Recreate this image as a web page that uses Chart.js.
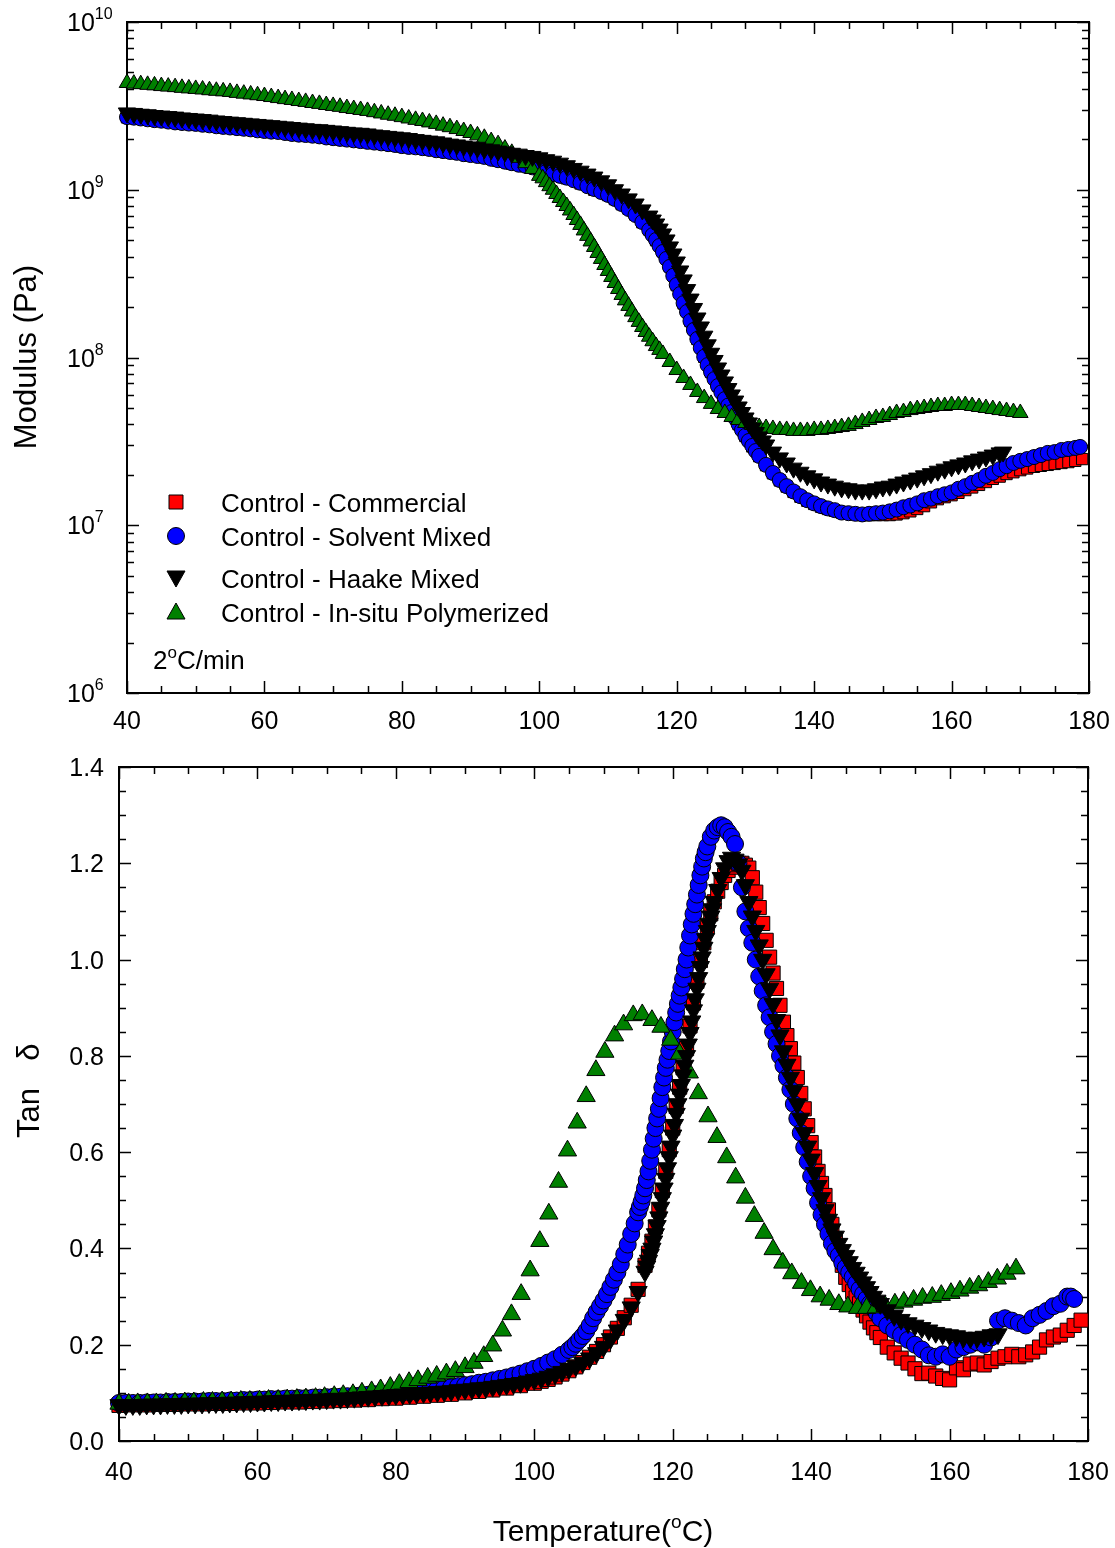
<!DOCTYPE html>
<html>
<head>
<meta charset="utf-8">
<script src="https://cdn.jsdelivr.net/npm/chart.js@4.4.1/dist/chart.umd.min.js"></script>
<style>
html,body{margin:0;padding:0;background:#fff;}
canvas{display:block;}
</style>
</head>
<body>
<canvas id="modChart" width="1115" height="745"></canvas>
<canvas id="tanChart" width="1115" height="803"></canvas>
<script>
// ---------------- DATA ----------------
const seriesNames = ['Control - Commercial', 'Control - Solvent Mixed', 'Control - Haake Mixed', 'Control - In-situ Polymerized'];
const tempTicks = [40, 60, 80, 100, 120, 140, 160, 180];
const modulusTicks = [1e6, 1e7, 1e8, 1e9, 1e10];
const modulusTickExponents = ['6', '7', '8', '9', '10'];
const tanTicks = [0.0, 0.2, 0.4, 0.6, 0.8, 1.0, 1.2, 1.4];
const rateNote = ['2', 'o', 'C/min'];
const xTitle = ['Temperature(', 'o', 'C)'];
const yTitleTop = 'Modulus (Pa)';
const yTitleBottom = ['Tan', 'δ'];

// Modulus (Pa) vs temperature (°C)
const modTempCommercial = [40,42,44,46,48,50,52,54,56,58,60,62,64,66,68,70,72,74,76,78,80,82,84,86,88,90,92,94,96,98,100,102,104,106,108,110,
111,112,113,114,115,116,117,118,119,120,121,122,123,124,125,126,127,128,129,130,131,132,133,134,135,136,137,138,139,140,
141,142,143,144,145,146,147,148,149,150,151,152,153,154,155,156,157,158,159,160,161,162,163,164,165,166,167,168,169,170,
171,172,173,174,175,176,177,178,179];
const modCommercial = [2.70e9,2.65e9,2.59e9,2.54e9,2.49e9,2.46e9,2.41e9,2.36e9,2.32e9,2.28e9,
2.23e9,2.20e9,2.14e9,2.11e9,2.07e9,2.02e9,1.98e9,1.94e9,1.90e9,1.86e9,
1.81e9,1.78e9,1.74e9,1.69e9,1.65e9,1.60e9,1.56e9,1.49e9,1.43e9,1.38e9,
1.32e9,1.23e9,1.17e9,1.09e9,1.00e9,9.30e8,
8.8e8,8.2e8,7.7e8,7.1e8,6.4e8,5.8e8,5.0e8,4.3e8,3.5e8,2.7e8,
2.1e8,1.65e8,1.29e8,1.01e8,8.2e7,6.8e7,5.6e7,4.7e7,4.0e7,3.4e7,
2.95e7,2.58e7,2.28e7,2.04e7,1.85e7,1.70e7,1.58e7,1.48e7,1.40e7,1.34e7,
1.29e7,1.25e7,1.22e7,1.19e7,1.17e7,1.16e7,1.15e7,1.15e7,1.15e7,1.15e7,
1.15e7,1.16e7,1.18e7,1.21e7,1.25e7,1.30e7,1.37e7,1.43e7,1.47e7,1.51e7,
1.56e7,1.62e7,1.68e7,1.74e7,1.81e7,1.89e7,1.95e7,2.02e7,2.07e7,2.13e7,
2.18e7,2.23e7,2.26e7,2.29e7,2.32e7,2.35e7,2.38e7,2.42e7,2.48e7];

const modTempSolvent = [40,41,42,43,44,45,46,47,48,49,50,51,52,53,54,55,56,57,58,59,60,61,62,63,64,65,66,67,68,69,
70,71,72,73,74,75,76,77,78,79,80,81,82,83,84,85,86,87,88,89,90,91,92,93,94,95,96,97,98,99,100,101,102,103,104,105,106,107,108,109,
110,111,112,113,114,115,
116,116.5,117,117.5,118,118.5,119,119.5,120,120.5,121,121.5,122,122.5,123,123.5,124,124.5,125,125.5,
126,126.5,127,127.5,128,128.5,129,129.5,130,130.5,131,131.5,
132,133,134,135,136,137,138,139,140,141,142,143,144,145,146,147,148,149,150,151,152,153,154,155,156,157,158,159,160,161,
162,163,164,165,166,167,168,169,170,171,172,173,174,175,176,177,178,178.7];
const modSolvent = [2.71e9,2.69e9,2.66e9,2.63e9,2.60e9,2.58e9,2.55e9,2.52e9,2.50e9,2.48e9,
2.47e9,2.44e9,2.42e9,2.39e9,2.37e9,2.35e9,2.33e9,2.31e9,2.29e9,2.26e9,
2.24e9,2.22e9,2.21e9,2.18e9,2.15e9,2.13e9,2.12e9,2.10e9,2.08e9,2.05e9,
2.03e9,2.01e9,1.99e9,1.97e9,1.95e9,1.93e9,1.91e9,1.89e9,1.87e9,1.85e9,
1.82e9,1.80e9,1.79e9,1.77e9,1.75e9,1.72e9,1.70e9,1.68e9,1.66e9,1.63e9,
1.61e9,1.59e9,1.57e9,1.53e9,1.50e9,1.47e9,1.44e9,1.41e9,1.39e9,1.36e9,
1.33e9,1.28e9,1.24e9,1.21e9,1.18e9,1.14e9,1.10e9,1.05e9,1.01e9,9.70e8,
9.32e8,8.81e8,8.22e8,7.68e8,7.07e8,6.42e8,
5.75e8,5.37e8,5.02e8,4.62e8,4.26e8,3.87e8,3.47e8,3.07e8,2.71e8,2.39e8,
2.11e8,1.87e8,1.65e8,1.46e8,1.29e8,1.14e8,1.01e8,9.02e7,8.19e7,7.44e7,
6.76e7,6.19e7,5.65e7,5.17e7,4.73e7,4.36e7,4.01e7,3.70e7,3.41e7,3.18e7,2.97e7,2.77e7,
2.59e7,2.29e7,2.05e7,1.86e7,1.71e7,1.59e7,1.49e7,1.41e7,1.35e7,1.30e7,
1.26e7,1.23e7,1.19e7,1.18e7,1.17e7,1.16e7,1.17e7,1.18e7,1.19e7,1.21e7,
1.24e7,1.28e7,1.31e7,1.35e7,1.41e7,1.44e7,1.49e7,1.53e7,1.57e7,1.65e7,
1.71e7,1.79e7,1.86e7,1.97e7,2.05e7,2.16e7,2.25e7,2.35e7,2.42e7,2.48e7,
2.55e7,2.62e7,2.70e7,2.73e7,2.81e7,2.85e7,2.89e7,2.93e7];

const modTempHaake = [40,41,42,43,44,45,46,47,48,49,50,51,52,53,54,55,56,57,58,59,60,61,62,63,64,65,66,67,68,69,
70,71,72,73,74,75,76,77,78,79,80,81,82,83,84,85,86,87,88,89,90,91,92,93,94,95,96,97,98,99,100,101,102,103,104,105,106,107,108,109,
110,111,112,113,114,115,
116,116.5,117,117.5,118,118.5,119,119.5,120,120.5,121,121.5,122,122.5,123,123.5,124,124.5,125,125.5,
126,126.5,127,127.5,128,128.5,129,129.5,130,130.5,131,131.5,132,132.5,
133,134,135,136,137,138,139,140,141,142,143,144,145,146,147,148,149,150,151,152,153,154,155,156,157,158,159,160,161,162,
163,164,165,166,167,167.5];
const modHaake = [2.87e9,2.85e9,2.82e9,2.80e9,2.77e9,2.75e9,2.73e9,2.71e9,2.68e9,2.66e9,
2.64e9,2.62e9,2.60e9,2.57e9,2.55e9,2.53e9,2.51e9,2.49e9,2.47e9,2.45e9,
2.43e9,2.41e9,2.39e9,2.37e9,2.35e9,2.33e9,2.31e9,2.29e9,2.28e9,2.26e9,
2.24e9,2.22e9,2.20e9,2.18e9,2.17e9,2.15e9,2.12e9,2.10e9,2.08e9,2.06e9,
2.04e9,2.02e9,1.99e9,1.97e9,1.95e9,1.93e9,1.90e9,1.87e9,1.85e9,1.82e9,
1.80e9,1.78e9,1.75e9,1.73e9,1.70e9,1.68e9,1.65e9,1.63e9,1.60e9,1.58e9,
1.55e9,1.51e9,1.48e9,1.44e9,1.39e9,1.34e9,1.29e9,1.24e9,1.19e9,1.13e9,
1.07e9,1.00e9,9.43e8,8.82e8,8.22e8,7.58e8,
6.97e8,6.60e8,6.25e8,5.83e8,5.45e8,5.02e8,4.56e8,4.14e8,3.71e8,3.28e8,
2.90e8,2.54e8,2.23e8,1.96e8,1.72e8,1.52e8,1.34e8,1.19e8,1.06e8,9.60e7,
8.66e7,7.86e7,7.15e7,6.53e7,5.98e7,5.50e7,5.07e7,4.70e7,4.36e7,4.07e7,
3.80e7,3.57e7,3.36e7,3.18e7,
3.01e7,2.73e7,2.52e7,2.35e7,2.19e7,2.07e7,1.97e7,1.89e7,1.81e7,1.76e7,
1.71e7,1.67e7,1.65e7,1.62e7,1.62e7,1.62e7,1.65e7,1.69e7,1.71e7,1.76e7,
1.81e7,1.86e7,1.91e7,1.97e7,2.03e7,2.10e7,2.16e7,2.23e7,2.29e7,2.35e7,
2.42e7,2.48e7,2.55e7,2.62e7,2.70e7,2.73e7];

const modTempInsitu = [40,41,42,43,44,45,46,47,48,49,50,51,52,53,54,55,56,57,58,59,60,61,62,63,64,65,66,67,68,69,
70,71,72,73,74,75,76,77,78,79,80,81,82,83,84,85,86,87,88,89,90,91,92,93,94,95,96,97,98,99,
100,100.5,101,101.5,102,102.5,103,103.5,104,104.5,105,105.5,106,106.5,107,107.5,108,108.5,109,109.5,
110,110.5,111,111.5,112,112.5,113,113.5,114,114.5,115,115.5,116,116.5,117,117.5,
118,119,120,121,122,123,124,125,126,127,128,129,130,131,132,133,134,135,136,137,138,139,140,141,142,143,144,145,146,147,
148,149,150,151,152,153,154,155,156,157,158,159,160,161,162,163,164,165,166,167,168,169,170];
const modInsitu = [4.33e9,4.29e9,4.26e9,4.22e9,4.19e9,4.15e9,4.12e9,4.09e9,4.05e9,4.02e9,
3.99e9,3.96e9,3.92e9,3.89e9,3.86e9,3.83e9,3.78e9,3.74e9,3.70e9,3.66e9,
3.62e9,3.57e9,3.52e9,3.47e9,3.43e9,3.38e9,3.34e9,3.29e9,3.25e9,3.20e9,
3.16e9,3.12e9,3.07e9,3.03e9,2.99e9,2.95e9,2.90e9,2.85e9,2.80e9,2.76e9,
2.71e9,2.66e9,2.61e9,2.57e9,2.52e9,2.47e9,2.41e9,2.36e9,2.30e9,2.24e9,
2.18e9,2.11e9,2.04e9,1.95e9,1.87e9,1.76e9,1.66e9,1.55e9,1.44e9,1.33e9,
1.21e9,1.17e9,1.11e9,1.05e9,1.00e9,9.43e8,8.93e8,8.45e8,8.00e8,7.52e8,
7.07e8,6.60e8,6.17e8,5.72e8,5.31e8,4.92e8,4.56e8,4.20e8,3.87e8,3.56e8,
3.28e8,3.02e8,2.78e8,2.56e8,2.36e8,2.19e8,2.03e8,1.88e8,1.74e8,1.63e8,
1.52e8,1.42e8,1.33e8,1.25e8,1.17e8,1.11e8,
1.05e8,9.40e7,8.42e7,7.55e7,6.86e7,6.23e7,5.73e7,5.29e7,4.93e7,4.67e7,
4.42e7,4.24e7,4.07e7,3.96e7,3.85e7,3.80e7,3.75e7,3.70e7,3.70e7,3.65e7,
3.65e7,3.65e7,3.70e7,3.70e7,3.75e7,3.80e7,3.85e7,3.91e7,4.01e7,4.13e7,
4.24e7,4.36e7,4.42e7,4.54e7,4.67e7,4.73e7,4.86e7,4.93e7,5.00e7,5.07e7,
5.14e7,5.14e7,5.21e7,5.21e7,5.21e7,5.14e7,5.07e7,5.00e7,4.93e7,4.86e7,
4.80e7,4.73e7,4.67e7];

// Tan delta vs temperature (°C)
const tanTempCommercial = [40,42,44,46,48,50,52,54,56,58,60,62,64,66,68,70,72,74,76,78,80,82,84,86,88,90,92,94,96,98,100,
101,102,103,104,105,106,107,108,109,110,111,112,113,114,115,
116,116.5,117,117.5,118,118.5,119,119.5,120,120.5,121,121.5,122,122.5,123,123.5,124,124.5,125,125.5,
126,126.5,127,127.5,128,128.5,129,129.5,130,130.5,131,131.5,132,132.5,133,133.5,134,134.5,135,135.5,
136,136.5,137,137.5,138,138.5,139,139.5,140,140.5,141,141.5,142,142.5,143,143.5,144,144.5,145,145.5,
146,146.5,147,147.5,148,148.5,149,149.5,150,
151,152,153,154,155,156,157,158,159,160,161,162,163,164,165,166,167,168,169,170,171,172,173,174,175,176,177,178,179];
const tanCommercial = [.074,.075,.075,.076,.076,.077,.077,.078,.078,.079,
.079,.080,.081,.081,.082,.083,.084,.085,.086,.088,
.089,.091,.093,.095,.097,.100,.103,.106,.110,.115,.120,
.124,.128,.133,.139,.146,.154,.163,.174,.186,.200,
.216,.234,.256,.282,.315,
.365,.390,.415,.445,.480,.520,.560,.605,.650,.695,
.735,.775,.815,.862,.910,.955,.998,1.035,1.068,1.095,
1.120,1.142,1.160,1.175,1.185,1.192,1.197,1.200,1.200,1.196,
1.190,1.170,1.140,1.108,1.075,1.040,1.005,.972,.940,.905,
.870,.842,.815,.785,.755,.722,.690,.655,.620,.590,
.560,.535,.510,.480,.450,.420,.390,.365,.340,.325,
.310,.297,.285,.272,.260,.247,.235,.225,.215,
.195,.183,.172,.162,.150,.140,.141,.135,.130,.127,
.152,.148,.160,.162,.158,.165,.172,.175,.180,.175,
.179,.185,.195,.210,.216,.220,.230,.240,.251];

const tanTempSolvent = [40,41,42,43,44,45,46,47,48,49,50,51,52,53,54,55,56,57,58,59,60,61,62,63,64,65,66,67,68,69,
70,71,72,73,74,75,76,77,78,79,80,81,82,83,84,85,86,87,88,89,90,91,92,93,94,95,96,97,98,99,100,101,102,103,104,
105,105.5,106,106.5,107,107.5,108,108.5,109,109.5,110,110.5,111,111.5,112,112.5,113,113.5,114,114.5,
115,115.25,115.5,115.75,116,116.25,116.5,116.75,117,117.25,117.5,117.75,118,118.25,118.5,118.75,119,119.25,119.5,119.75,
120,120.25,120.5,120.75,121,121.25,121.5,121.75,122,122.25,122.5,122.75,123,123.25,123.5,123.75,124,124.25,124.5,124.75,125,
125.5,126,126.5,127,127.5,128,128.5,129,129.5,
130,130.5,131,131.5,132,132.5,133,133.5,134,134.5,
135,135.5,136,136.5,137,137.5,138,138.5,139,139.5,
140,140.5,141,141.5,142,142.5,143,143.5,144,144.5,
145,145.5,146,146.5,147,147.5,148,148.5,149,149.5,150,
151,152,153,154,155,156,157,158,159,160,161,162,163,164,165,166,167,168,169,170,171,172,173,174,175,176,177,177.5,178];
const tanSolvent = [.079,.079,.079,.079,.080,.080,.080,.081,.081,.081,
.082,.082,.082,.083,.083,.083,.084,.084,.085,.085,
.086,.086,.087,.087,.088,.088,.089,.089,.090,.090,
.091,.092,.092,.093,.094,.095,.096,.097,.098,.099,
.100,.101,.102,.104,.105,.107,.108,.110,.112,.114,
.116,.118,.121,.123,.126,.129,.132,.136,.140,.145,
.150,.156,.163,.170,.179,
.189,.195,.202,.210,.218,.228,.240,.255,.268,.280,
.292,.305,.320,.335,.350,.367,.388,.408,.430,.452,
.475,.486,.497,.510,.525,.542,.560,.582,.605,.628,.650,.670,.690,.712,.735,.755,.775,.792,.810,.830,
.850,.870,.890,.908,.925,.942,.960,.980,1.000,1.025,1.050,1.073,1.095,1.115,1.135,1.155,1.175,1.193,1.210,1.223,1.235,
1.255,1.268,1.275,1.279,1.275,1.265,1.255,1.240,1.200,
1.150,1.100,1.065,1.035,1.000,.965,.935,.905,.880,.850,
.825,.800,.780,.755,.730,.700,.670,.640,.610,.580,
.550,.525,.495,.470,.450,.430,.410,.395,.385,.370,
.360,.350,.340,.327,.315,.305,.295,.285,.275,.265,.255,
.240,.230,.220,.210,.200,.190,.178,.175,.180,.175,
.190,.195,.200,.205,.200,.215,.250,.255,.250,.245,
.240,.255,.262,.270,.280,.285,.300,.300,.295];

const tanTempHaake = [40,41,42,43,44,45,46,47,48,49,50,51,52,53,54,55,56,57,58,59,60,61,62,63,64,65,66,67,68,69,
70,71,72,73,74,75,76,77,78,79,80,81,82,83,84,85,86,87,88,89,90,91,92,93,94,95,96,97,98,99,100,101,102,103,104,105,106,107,108,109,
110,111,112,113,114,115,
116,116.25,116.5,116.75,117,117.25,117.5,117.75,118,118.25,118.5,118.75,119,119.25,119.5,119.75,120,120.25,120.5,120.75,
121,121.25,121.5,121.75,122,122.25,122.5,122.75,123,123.25,123.5,123.75,124,124.25,124.5,124.75,125,125.25,125.5,125.75,126,
126.5,127,127.5,128,128.5,129,129.5,130,130.5,
131,131.5,132,132.5,133,133.5,134,134.5,135,135.5,
136,136.5,137,137.5,138,138.5,139,139.5,140,140.5,
141,141.5,142,142.5,143,143.5,144,144.5,145,145.5,
146,146.5,147,147.5,148,148.5,149,149.5,150,
151,152,153,154,155,156,157,158,159,160,161,162,163,164,165,166,167];
const tanHaake = [.075,.075,.075,.075,.076,.076,.076,.077,.077,.077,
.078,.078,.078,.079,.079,.079,.080,.080,.081,.081,
.082,.082,.083,.083,.084,.084,.085,.085,.086,.086,
.087,.088,.088,.089,.090,.091,.092,.093,.094,.095,
.096,.097,.098,.099,.100,.101,.102,.103,.104,.106,
.107,.108,.110,.111,.113,.115,.117,.119,.121,.124,
.127,.130,.134,.139,.144,.150,.156,.163,.172,.183,
.196,.212,.230,.252,.278,.310,
.352,.363,.375,.387,.400,.415,.430,.447,.465,.485,.505,.525,.545,.567,.590,.612,.635,.657,.680,.700,
.720,.740,.760,.780,.800,.824,.848,.872,.895,.918,.940,.962,.985,1.005,1.025,1.043,1.060,1.075,1.090,1.105,1.120,
1.145,1.170,1.190,1.205,1.212,1.208,1.198,1.185,1.155,
1.120,1.090,1.060,1.030,1.000,.970,.940,.908,.875,.843,
.810,.782,.755,.728,.700,.670,.640,.612,.585,.557,
.530,.505,.480,.460,.440,.425,.410,.397,.385,.372,
.360,.350,.340,.330,.320,.310,.300,.292,.285,
.272,.260,.252,.245,.240,.235,.230,.225,.222,.220,
.218,.215,.214,.215,.217,.220,.222];

const tanTempInsitu = [40,41.4,42.7,44.1,45.4,46.8,48.1,49.5,50.8,52.2,
53.5,54.9,56.2,57.6,58.9,60.3,61.6,63.0,64.3,65.7,
67.0,68.4,69.7,71.1,72.4,73.8,75.1,76.5,77.8,79.2,
80.5,81.9,83.2,84.6,85.9,87.3,88.6,90.0,91.3,92.7,
94.0,95.4,96.7,98.1,99.4,100.8,102.1,103.5,104.8,106.2,
107.5,108.9,110.2,111.6,112.9,114.3,115.6,117.0,118.3,119.7,
121.0,122.4,123.7,125.1,126.4,127.8,129.1,130.5,131.8,133.2,
134.5,135.9,137.2,138.6,139.9,141.3,142.6,144.0,145.3,146.7,
148.0,149.4,150.7,152.1,153.4,154.8,156.1,157.5,158.8,160.2,
161.5,162.9,164.2,165.6,166.9,168.3,169.6];
const tanInsitu = [.077,.077,.078,.078,.078,.079,.079,.080,.080,.081,
.081,.082,.082,.083,.083,.084,.085,.085,.086,.087,
.088,.089,.091,.093,.095,.097,.100,.103,.107,.112,
.118,.122,.126,.131,.135,.140,.145,.153,.162,.176,
.198,.229,.263,.305,.354,.415,.472,.538,.603,.661,
.716,.770,.808,.842,.865,.884,.886,.874,.860,.833,
.804,.765,.722,.674,.631,.589,.547,.505,.467,.432,
.398,.370,.348,.328,.313,.300,.293,.284,.279,.276,
.276,.277,.280,.285,.289,.293,.297,.299,.303,.307,
.312,.318,.323,.330,.337,.347,.358];

// ---------------- STYLE ----------------
const FONT_FAMILY = '"Liberation Sans", Arial, Helvetica, sans-serif';
const font = px => px + 'px ' + FONT_FAMILY;
const STYLE = {
  commercial: { fill: '#ff0000', shape: 'rect', rot: 0 },
  solvent: { fill: '#0000ff', shape: 'circle', rot: 0 },
  haake: { fill: '#000000', shape: 'triangle', rot: 180 },
  insitu: { fill: '#008000', shape: 'triangle', rot: 0 }
};

function pts(label, xs, ys) {
  if (xs.length !== ys.length) throw new Error(label + ': ' + xs.length + ' x vs ' + ys.length + ' y');
  return xs.map((x, i) => ({ x: x, y: ys[i] }));
}
function ds(label, xs, ys, st, r, order) {
  return {
    label: label, data: pts(label, xs, ys), showLine: false, clip: false, order: order,
    pointStyle: st.shape, pointRotation: st.rot, pointRadius: r, pointHoverRadius: r,
    pointBackgroundColor: st.fill, pointBorderColor: '#000', pointBorderWidth: 1,
    backgroundColor: st.fill, borderColor: '#000'
  };
}
function drawRich(ctx, parts, x, y, align) {
  let total = 0;
  const ws = parts.map(p => { ctx.font = font(p[1]); const w = ctx.measureText(p[0]).width; total += w; return w; });
  let cx = align === 'center' ? x - total / 2 : (align === 'right' ? x - total : x);
  ctx.textAlign = 'left';
  ctx.textBaseline = 'alphabetic';
  parts.forEach((p, i) => { ctx.font = font(p[1]); ctx.fillText(p[0], cx, y - (p[2] || 0)); cx += ws[i]; });
}
function marker(ctx, shape, x, y, fill) {
  ctx.save();
  ctx.fillStyle = fill; ctx.strokeStyle = '#000'; ctx.lineWidth = 1;
  ctx.beginPath();
  if (shape === 'rect') ctx.rect(x - 7, y - 7, 14, 14);
  else if (shape === 'circle') ctx.arc(x, y, 8.5, 0, Math.PI * 2);
  else if (shape === 'down') { ctx.moveTo(x, y + 9); ctx.lineTo(x - 9, y - 7); ctx.lineTo(x + 9, y - 7); ctx.closePath(); }
  else { ctx.moveTo(x, y - 9); ctx.lineTo(x - 9, y + 7); ctx.lineTo(x + 9, y + 7); ctx.closePath(); }
  ctx.fill(); ctx.stroke();
  ctx.restore();
}

function framePlugin(id, ticks, labels) {
  return {
    id: id,
    beforeDatasetsDraw(chart) {
      const ctx = chart.ctx, a = chart.chartArea, sx = chart.scales.x, sy = chart.scales.y;
      ctx.save();
      ctx.strokeStyle = '#000';
      ctx.lineWidth = 1.5;
      ctx.beginPath();
      const hx = (v, len) => { const p = Math.round(sx.getPixelForValue(v)) + 0.5; ctx.moveTo(p, a.bottom); ctx.lineTo(p, a.bottom - len); ctx.moveTo(p, a.top); ctx.lineTo(p, a.top + len); };
      const vy = (v, len) => { const p = Math.round(sy.getPixelForValue(v)) + 0.5; ctx.moveTo(a.left, p); ctx.lineTo(a.left + len, p); ctx.moveTo(a.right, p); ctx.lineTo(a.right - len, p); };
      ticks.xMajor.forEach(v => hx(v, 12));
      ticks.xMinor.forEach(v => hx(v, 7));
      ticks.yMajor.forEach(v => vy(v, 12));
      ticks.yMinor.forEach(v => vy(v, 7));
      ctx.stroke();
      ctx.lineWidth = 2;
      ctx.strokeRect(a.left, a.top, a.right - a.left, a.bottom - a.top);
      ctx.restore();
    },
    afterDraw(chart) {
      const ctx = chart.ctx;
      ctx.save();
      ctx.fillStyle = '#000';
      labels(chart, ctx);
      ctx.restore();
    }
  };
}

// tick positions (axis configuration)
const tempMinor = [];
for (let t = 40; t <= 180; t += 5) if (t % 20 !== 0) tempMinor.push(t);
const modMinor = [];
for (let e = 6; e < 10; e++) for (let m = 2; m <= 9; m++) modMinor.push(m * Math.pow(10, e));
const tanMinor = [];
for (let k = 0; k <= 28; k++) if (k % 4 !== 0) tanMinor.push(k * 0.05);

const baseOptions = (padding, yScale) => ({
  responsive: false, animation: false, devicePixelRatio: 1, events: [],
  layout: { padding: padding },
  plugins: { legend: { display: false }, tooltip: { enabled: false } },
  scales: {
    x: { type: 'linear', min: 40, max: 180, display: false },
    y: yScale
  }
});

// ---------------- TOP CHART: MODULUS ----------------
new Chart(document.getElementById('modChart'), {
  type: 'scatter',
  data: {
    datasets: [
      ds(seriesNames[0], modTempCommercial, modCommercial, STYLE.commercial, 8, 4),
      ds(seriesNames[1], modTempSolvent, modSolvent, STYLE.solvent, 7.5, 3),
      ds(seriesNames[3], modTempInsitu, modInsitu, STYLE.insitu, 9, 2),
      ds(seriesNames[2], modTempHaake, modHaake, STYLE.haake, 10, 1)
    ]
  },
  options: baseOptions({ left: 127, right: 26, top: 22, bottom: 52 },
    { type: 'logarithmic', min: 1e6, max: 1e10, display: false }),
  plugins: [framePlugin('modFrame',
    { xMajor: tempTicks, xMinor: tempMinor, yMajor: modulusTicks, yMinor: modMinor },
    (chart, ctx) => {
      const a = chart.chartArea, sx = chart.scales.x, sy = chart.scales.y;
      modulusTicks.forEach((v, i) => {
        drawRich(ctx, [['10', 25, 0], [modulusTickExponents[i], 16, 12]], 67, sy.getPixelForValue(v) + 9, 'left');
      });
      ctx.font = font(25); ctx.textAlign = 'center'; ctx.textBaseline = 'alphabetic';
      tempTicks.forEach(v => ctx.fillText(String(v), sx.getPixelForValue(v), a.bottom + 36));
      ctx.save();
      ctx.translate(25, 357); ctx.rotate(-Math.PI / 2);
      ctx.font = font(31); ctx.textAlign = 'center'; ctx.fillText(yTitleTop, 0, 11);
      ctx.restore();
      const leg = [
        [seriesNames[0], 'rect', STYLE.commercial.fill, 502],
        [seriesNames[1], 'circle', STYLE.solvent.fill, 536],
        [seriesNames[2], 'down', STYLE.haake.fill, 578],
        [seriesNames[3], 'up', STYLE.insitu.fill, 612]
      ];
      leg.forEach(l => {
        marker(ctx, l[1], 176, l[3], l[2]);
        ctx.fillStyle = '#000';
        ctx.font = font(26); ctx.textAlign = 'left'; ctx.textBaseline = 'alphabetic';
        ctx.fillText(l[0], 221, l[3] + 10);
      });
      drawRich(ctx, [[rateNote[0], 26, 0], [rateNote[1], 17, 11], [rateNote[2], 26, 0]], 153, 669, 'left');
    })]
});

// ---------------- BOTTOM CHART: TAN DELTA ----------------
new Chart(document.getElementById('tanChart'), {
  type: 'scatter',
  data: {
    datasets: [
      ds(seriesNames[0], tanTempCommercial, tanCommercial, STYLE.commercial, 10, 4),
      ds(seriesNames[1], tanTempSolvent, tanSolvent, STYLE.solvent, 8.5, 3),
      ds(seriesNames[3], tanTempInsitu, tanInsitu, STYLE.insitu, 10.5, 2),
      ds(seriesNames[2], tanTempHaake, tanHaake, STYLE.haake, 10.5, 1)
    ]
  },
  options: baseOptions({ left: 119, right: 27, top: 22, bottom: 107 },
    { type: 'linear', min: 0, max: 1.4, display: false }),
  plugins: [framePlugin('tanFrame',
    { xMajor: tempTicks, xMinor: tempMinor, yMajor: tanTicks, yMinor: tanMinor },
    (chart, ctx) => {
      const a = chart.chartArea, sx = chart.scales.x, sy = chart.scales.y;
      ctx.font = font(25); ctx.textBaseline = 'alphabetic';
      ctx.textAlign = 'right';
      tanTicks.forEach(v => ctx.fillText(v.toFixed(1), 104, sy.getPixelForValue(v) + 9));
      ctx.textAlign = 'center';
      tempTicks.forEach(v => ctx.fillText(String(v), sx.getPixelForValue(v), a.bottom + 39));
      drawRich(ctx, [[xTitle[0], 30, 0], [xTitle[1], 19, 13], [xTitle[2], 30, 0]], 603, 796, 'center');
      ctx.save();
      ctx.translate(28, 368); ctx.rotate(-Math.PI / 2);
      ctx.font = font(31); ctx.textAlign = 'center'; ctx.fillText(yTitleBottom[0], 0, 11);
      ctx.restore();
      ctx.save();
      ctx.translate(28, 307); ctx.rotate(-Math.PI / 2);
      ctx.font = font(31); ctx.textAlign = 'center'; ctx.fillText(yTitleBottom[1], 0, 11);
      ctx.restore();
    })]
});
</script>
</body>
</html>
